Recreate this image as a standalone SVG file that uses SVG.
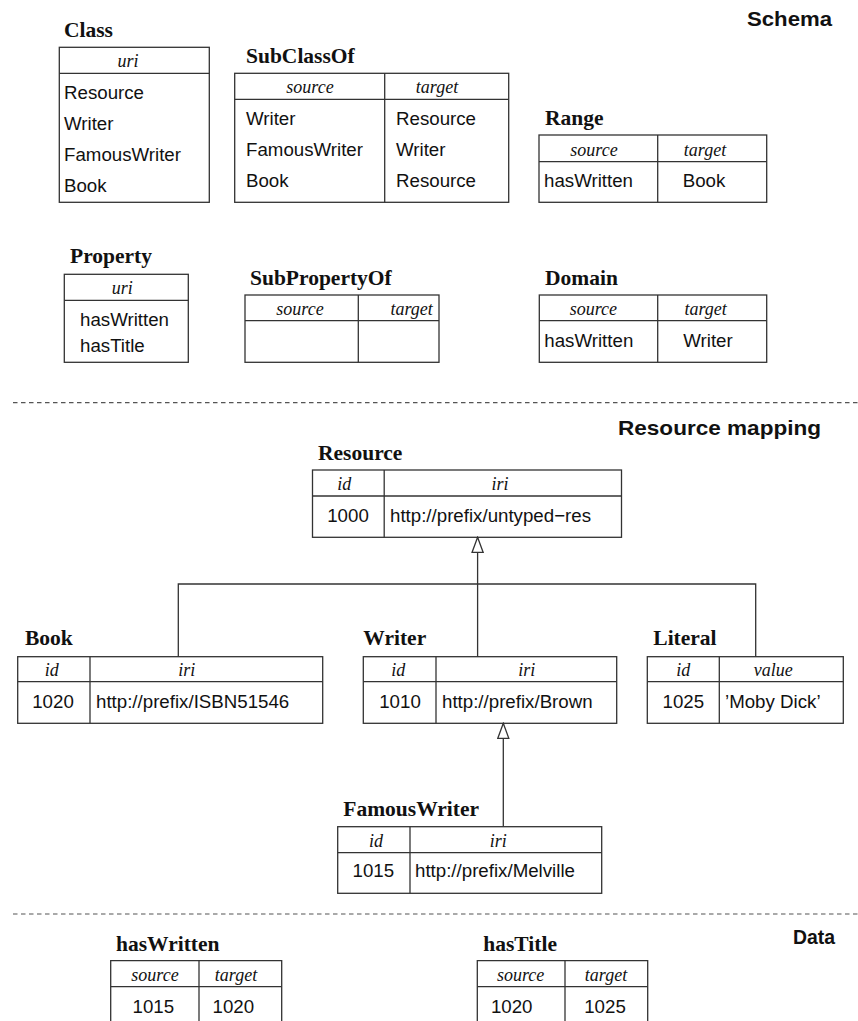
<svg xmlns="http://www.w3.org/2000/svg" width="858" height="1021" viewBox="0 0 858 1021">
  <style>
    .lbl { font-family: "Liberation Serif", "Times New Roman", serif; font-weight: bold; font-size: 21.5px; fill: #111; }
    .hd { font-family: "Liberation Serif", "Times New Roman", serif; font-style: italic; font-size: 18px; fill: #111; text-anchor: middle; }
    .cell { font-family: "Liberation Sans", Arial, sans-serif; font-size: 18.7px; fill: #111; }
    .mid { text-anchor: middle; }
    .sec { font-family: "Liberation Sans", Arial, sans-serif; font-weight: bold; font-size: 21px; fill: #111; text-anchor: end; }
    .box { fill: none; stroke: #333; stroke-width: 1.3; }
    .conn { fill: none; stroke: #333; stroke-width: 1.3; }
    .sep { fill: none; stroke: #555; stroke-width: 1.2; stroke-dasharray: 4.5 3.5; }
  </style>
  <defs>
    <marker id="gen" markerUnits="userSpaceOnUse" markerWidth="17" markerHeight="13" viewBox="-1 -1 17 13" refX="15" refY="5.5" orient="auto">
      <path d="M0,0 L15,5.5 L0,11 Z" fill="#fff" stroke="#333" stroke-width="1.3"/>
    </marker>
  </defs>
  <rect width="858" height="1021" fill="#fff"/>

  <!-- section titles and separators -->
  <g id="sections">
    <text class="sec" x="832" y="26" textLength="85" lengthAdjust="spacingAndGlyphs">Schema</text>
    <line class="sep" x1="13" y1="402.7" x2="858" y2="402.7"/>
    <text class="sec" x="821" y="435" textLength="203" lengthAdjust="spacingAndGlyphs">Resource mapping</text>
    <line class="sep" x1="13" y1="914" x2="858" y2="914"/>
    <text class="sec" x="835" y="944" textLength="42" lengthAdjust="spacingAndGlyphs">Data</text>
  </g>

  <!-- schema tables -->
  <g id="class">
    <text class="lbl" x="64" y="37">Class</text>
    <rect class="box" x="59.3" y="47.3" width="150" height="155"/>
    <line class="box" x1="59.3" y1="73.3" x2="209.3" y2="73.3"/>
    <text class="hd" x="128" y="67.3">uri</text>
    <text class="cell" x="64" y="99">Resource</text>
    <text class="cell" x="64" y="130">Writer</text>
    <text class="cell" x="64" y="161">FamousWriter</text>
    <text class="cell" x="64" y="192">Book</text>
  </g>

  <g id="subclassof">
    <text class="lbl" x="246" y="63">SubClassOf</text>
    <rect class="box" x="234.7" y="73.3" width="274" height="129"/>
    <line class="box" x1="234.7" y1="99.3" x2="508.7" y2="99.3"/>
    <line class="box" x1="384.7" y1="73.3" x2="384.7" y2="202.3"/>
    <text class="hd" x="310" y="93.3">source</text>
    <text class="hd" x="437" y="93.3">target</text>
    <text class="cell" x="246" y="124.5">Writer</text>
    <text class="cell" x="396" y="124.5">Resource</text>
    <text class="cell" x="246" y="155.5">FamousWriter</text>
    <text class="cell" x="396" y="155.5">Writer</text>
    <text class="cell" x="246" y="186.5">Book</text>
    <text class="cell" x="396" y="186.5">Resource</text>
  </g>

  <g id="range">
    <text class="lbl" x="545" y="125">Range</text>
    <rect class="box" x="539" y="135" width="227.7" height="67.3"/>
    <line class="box" x1="539" y1="161.7" x2="766.7" y2="161.7"/>
    <line class="box" x1="657.7" y1="135" x2="657.7" y2="202.3"/>
    <text class="hd" x="594" y="155.5">source</text>
    <text class="hd" x="705" y="155.5">target</text>
    <text class="cell" x="544" y="186.7">hasWritten</text>
    <text class="cell mid" x="704" y="186.7">Book</text>
  </g>

  <g id="property">
    <text class="lbl" x="70" y="263.3">Property</text>
    <rect class="box" x="64.3" y="274.3" width="124" height="88"/>
    <line class="box" x1="64.3" y1="300.3" x2="188.3" y2="300.3"/>
    <text class="hd" x="122.3" y="294.3">uri</text>
    <text class="cell" x="80" y="326">hasWritten</text>
    <text class="cell" x="80" y="351.7">hasTitle</text>
  </g>

  <g id="subpropertyof">
    <text class="lbl" x="250" y="285">SubPropertyOf</text>
    <rect class="box" x="245" y="295" width="194" height="67.3"/>
    <line class="box" x1="245" y1="320.7" x2="439" y2="320.7"/>
    <line class="box" x1="358.3" y1="295" x2="358.3" y2="362.3"/>
    <text class="hd" x="300" y="314.7">source</text>
    <text class="hd" x="411.7" y="314.7">target</text>
  </g>

  <g id="domain">
    <text class="lbl" x="545" y="285">Domain</text>
    <rect class="box" x="539.3" y="295" width="227.4" height="67.3"/>
    <line class="box" x1="539.3" y1="320.7" x2="766.7" y2="320.7"/>
    <line class="box" x1="657.7" y1="295" x2="657.7" y2="362.3"/>
    <text class="hd" x="593.3" y="314.7">source</text>
    <text class="hd" x="705.7" y="314.7">target</text>
    <text class="cell" x="544.3" y="346.7">hasWritten</text>
    <text class="cell mid" x="708" y="346.7">Writer</text>
  </g>

  <!-- resource mapping tables -->
  <g id="resource">
    <text class="lbl" x="318" y="460">Resource</text>
    <rect class="box" x="312.5" y="470" width="309" height="67.3"/>
    <line class="box" x1="312.5" y1="496" x2="621.5" y2="496"/>
    <line class="box" x1="384.2" y1="470" x2="384.2" y2="537.3"/>
    <text class="hd" x="344.3" y="490">id</text>
    <text class="hd" x="500" y="490">iri</text>
    <text class="cell mid" x="348" y="521.7">1000</text>
    <text class="cell" x="390" y="521.7">http://prefix/untyped−res</text>
  </g>

  <g id="book">
    <text class="lbl" x="25" y="645">Book</text>
    <rect class="box" x="17.7" y="656.7" width="305" height="66.6"/>
    <line class="box" x1="17.7" y1="681.7" x2="322.7" y2="681.7"/>
    <line class="box" x1="90" y1="656.7" x2="90" y2="723.3"/>
    <text class="hd" x="51.7" y="675.7">id</text>
    <text class="hd" x="186.7" y="675.7">iri</text>
    <text class="cell mid" x="53" y="707.7">1020</text>
    <text class="cell" x="96" y="707.7">http://prefix/ISBN51546</text>
  </g>

  <g id="writer">
    <text class="lbl" x="363.3" y="645">Writer</text>
    <rect class="box" x="363.3" y="656.7" width="253.4" height="66.6"/>
    <line class="box" x1="363.3" y1="681.7" x2="616.7" y2="681.7"/>
    <line class="box" x1="436" y1="656.7" x2="436" y2="723.3"/>
    <text class="hd" x="398.3" y="675.7">id</text>
    <text class="hd" x="526.7" y="675.7">iri</text>
    <text class="cell mid" x="400" y="707.7">1010</text>
    <text class="cell" x="442" y="707.7">http://prefix/Brown</text>
  </g>

  <g id="literal">
    <text class="lbl" x="653.3" y="645">Literal</text>
    <rect class="box" x="647.3" y="656.7" width="196" height="66.6"/>
    <line class="box" x1="647.3" y1="681.7" x2="843.3" y2="681.7"/>
    <line class="box" x1="719.3" y1="656.7" x2="719.3" y2="723.3"/>
    <text class="hd" x="683.3" y="675.7">id</text>
    <text class="hd" x="773.3" y="675.7">value</text>
    <text class="cell mid" x="683.3" y="707.7">1025</text>
    <text class="cell" x="725" y="707.7">’Moby Dick’</text>
  </g>

  <g id="famouswriter">
    <text class="lbl" x="343.3" y="816">FamousWriter</text>
    <rect class="box" x="337.7" y="826.7" width="264" height="66.6"/>
    <line class="box" x1="337.7" y1="852.7" x2="601.7" y2="852.7"/>
    <line class="box" x1="410" y1="826.7" x2="410" y2="893.3"/>
    <text class="hd" x="376" y="846.7">id</text>
    <text class="hd" x="498.3" y="846.7">iri</text>
    <text class="cell mid" x="373.3" y="877.3">1015</text>
    <text class="cell" x="415" y="877.3">http://prefix/Melville</text>
  </g>

  <!-- data tables (continue below the page edge) -->
  <g id="haswritten">
    <text class="lbl" x="116" y="951">hasWritten</text>
    <path class="box" d="M110.7,1030 V960.7 H281.7 V1030"/>
    <line class="box" x1="110.7" y1="986.7" x2="281.7" y2="986.7"/>
    <line class="box" x1="199" y1="960.7" x2="199" y2="1030"/>
    <text class="hd" x="155" y="980.7">source</text>
    <text class="hd" x="236" y="980.7">target</text>
    <text class="cell mid" x="153.3" y="1012.7">1015</text>
    <text class="cell mid" x="233.3" y="1012.7">1020</text>
  </g>

  <g id="hastitle">
    <text class="lbl" x="483.3" y="951">hasTitle</text>
    <path class="box" d="M477.3,1030 V960.7 H647.7 V1030"/>
    <line class="box" x1="477.3" y1="986.7" x2="647.7" y2="986.7"/>
    <line class="box" x1="565" y1="960.7" x2="565" y2="1030"/>
    <text class="hd" x="520.7" y="980.7">source</text>
    <text class="hd" x="606" y="980.7">target</text>
    <text class="cell mid" x="511.7" y="1012.7">1020</text>
    <text class="cell mid" x="605" y="1012.7">1025</text>
  </g>

  <!-- generalisation connectors -->
  <g id="connectors">
    <path class="conn" d="M178.3,656.7 V584 H755.7 V656.7"/>
    <path class="conn" d="M477.6,656.7 V537.3" marker-end="url(#gen)"/>
    <path class="conn" d="M503.3,826.7 V723.3" marker-end="url(#gen)"/>
  </g>
</svg>
